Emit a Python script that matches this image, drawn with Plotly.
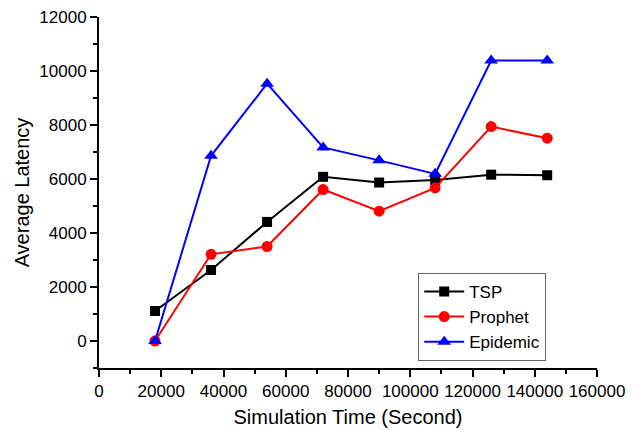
import plotly.graph_objects as go

x_vals = [18000, 36000, 54000, 72000, 90000, 108000, 126000, 144000]
tsp = [1110, 2630, 4410, 6080, 5870, 5960, 6160, 6140]
prophet = [0, 3210, 3500, 5610, 4810, 5670, 7940, 7510]
epidemic = [0, 6860, 9530, 7170, 6690, 6190, 10390, 10390]

fig = go.Figure()
series = [
    ("TSP", tsp, "black", "square", 10),
    ("Prophet", prophet, "red", "circle", 11),
    ("Epidemic", epidemic, "blue", "triangle-up", 12),
]
for name, ys, col, sym, sz in series:
    fig.add_trace(go.Scatter(
        x=x_vals, y=ys, name=name, mode="lines+markers",
        line=dict(color=col, width=2),
        marker=dict(symbol=sym, size=sz, color=col),
    ))

font = "Liberation Sans, Arial, sans-serif"
fig.update_layout(
    width=635, height=430,
    margin=dict(l=99, r=38, t=17, b=62),
    paper_bgcolor="white", plot_bgcolor="white",
    font=dict(family=font, size=17, color="black"),
    showlegend=True,
    legend=dict(
        x=0.641, y=0.271, xanchor="left", yanchor="top",
        bordercolor="#666666", borderwidth=1, bgcolor="white",
        font=dict(size=17, family=font), tracegroupgap=0,
        itemwidth=40,
    ),
    xaxis=dict(
        range=[0, 160000], showgrid=False, zeroline=False, automargin=False,
        showline=True, linecolor="black", linewidth=2,
        ticks="outside", ticklen=7, tickwidth=2, tickcolor="black",
        dtick=20000, tickformat="d",
        minor=dict(ticks="outside", ticklen=4, tickwidth=2, tickcolor="black", dtick=10000),
        title=dict(text="Simulation Time (Second)", font=dict(size=20), standoff=10),
        tickfont=dict(size=17),
    ),
    yaxis=dict(
        range=[-1000, 12000], showgrid=False, zeroline=False, automargin=False,
        showline=True, linecolor="black", linewidth=2,
        ticks="outside", ticklen=7, tickwidth=2, tickcolor="black",
        tick0=0, dtick=2000, tickformat="d",
        minor=dict(ticks="outside", ticklen=4, tickwidth=2, tickcolor="black", dtick=1000),
        title=dict(text="Average Latency", font=dict(size=20), standoff=4),
        tickfont=dict(size=17),
    ),
)
fig.write_html("out.html")
